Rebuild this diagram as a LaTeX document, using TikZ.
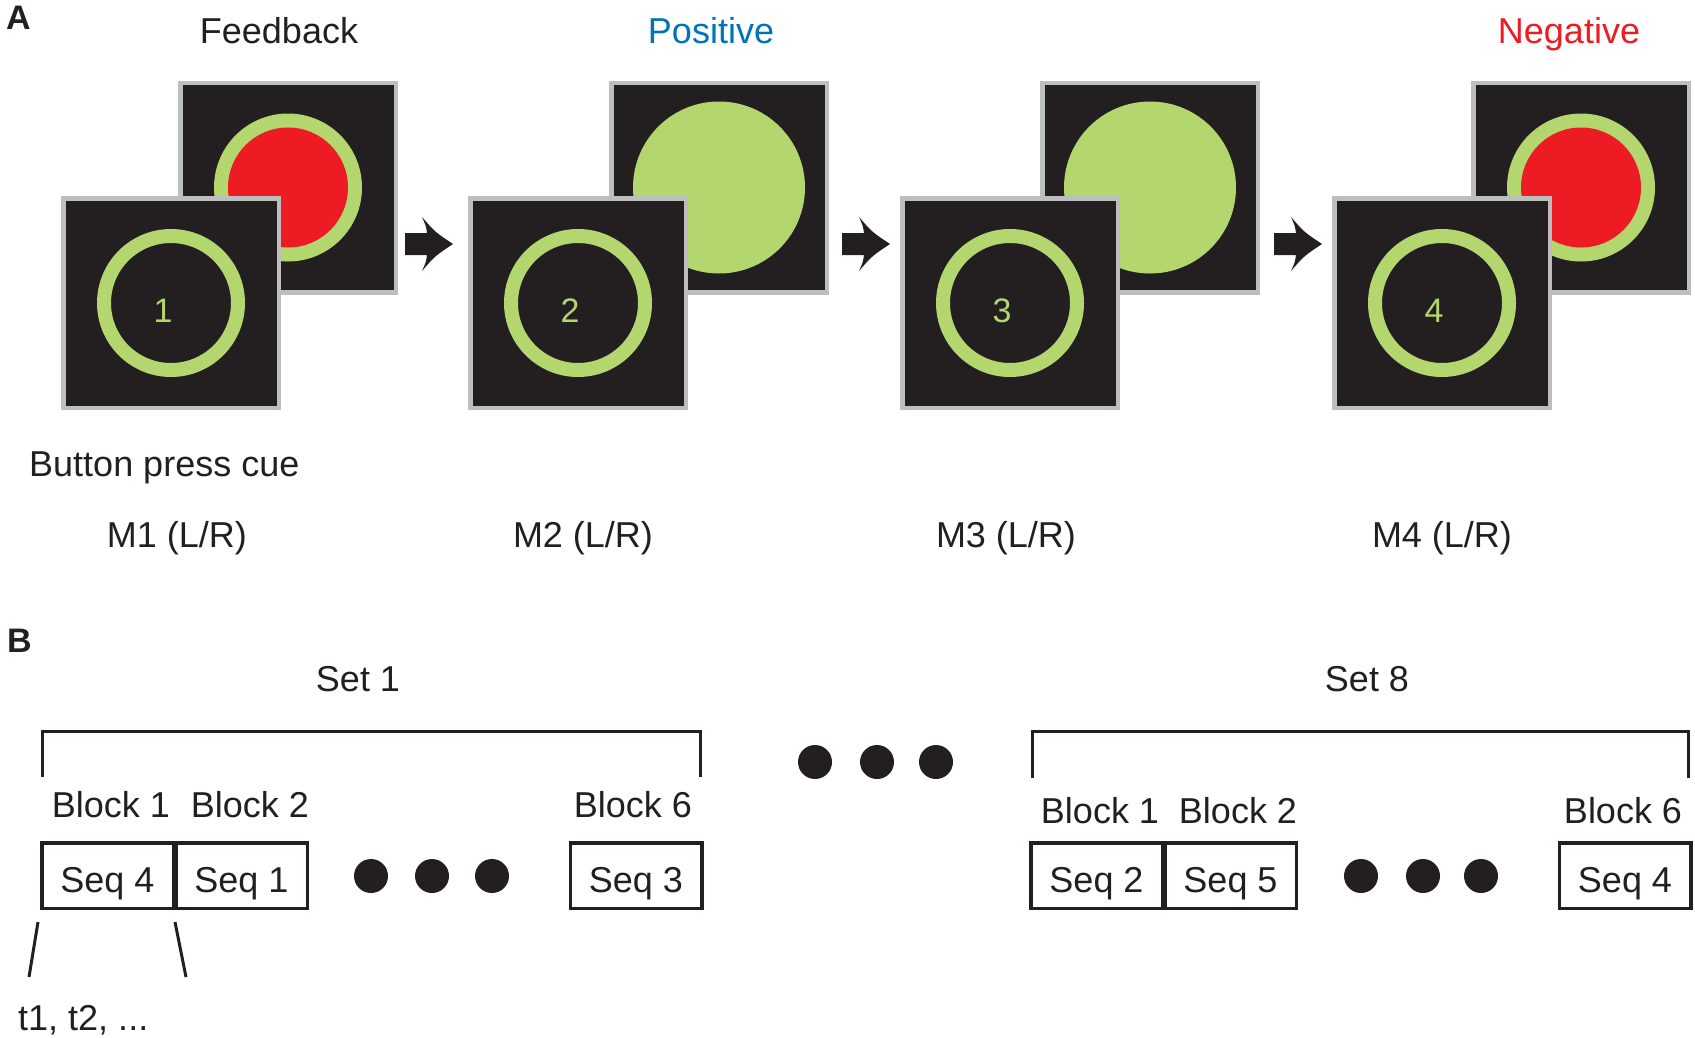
\documentclass[tikz,border=0pt]{standalone}
\usepackage{fontspec}
\setmainfont{Liberation Sans}
\usetikzlibrary{calc}

\definecolor{inkblack}{RGB}{35,31,32}
\definecolor{screenblack}{RGB}{35,31,32}
\definecolor{framegray}{RGB}{188,190,192}
\definecolor{ringgreen}{RGB}{179,214,110}
\definecolor{stopred}{RGB}{237,28,36}
\definecolor{posblue}{RGB}{0,114,188}

\tikzset{
    blockarrow/.pic={
        \fill[inkblack] (0,-11) -- (22,-11) .. controls (21,-18) .. (17,-27)
            .. controls (30,-12) .. (48,0) .. controls (30,12) .. (17,27)
            .. controls (21,18) .. (22,11) -- (0,11) -- cycle;
    }
}

\begin{document}
\begin{tikzpicture}[
    x=1pt, y=-1pt,
    font=\fontsize{36}{43}\selectfont,
    screen/.style={draw=framegray, line width=4.5pt, fill=screenblack,
        minimum width=215.5pt, minimum height=209.5pt, inner sep=0pt},
    ring/.style={draw=ringgreen, line width=14pt},
    digit/.style={text=ringgreen, font=\fontsize{34}{40}\selectfont},
    txt/.style={anchor=base, text=inkblack, inner sep=0pt},
    panel/.style={anchor=base west, text=inkblack, inner sep=0pt,
        font=\fontsize{34}{40}\selectfont\bfseries},
    seqbox/.style={draw=inkblack, line width=3.5pt, minimum width=131.5pt,
        minimum height=65.5pt, inner sep=0pt, text height=33pt,
        text depth=0pt, text=inkblack},
    bracket/.style={draw=inkblack, line width=3pt}
]
    \useasboundingbox (0,0) rectangle (1695,1037);

    % ---- Panel A ----
    \node[panel] (A) at (6,29) {A};

    % Headings
    \node[txt] (fb) at (279,43) {Feedback};
    \node[txt, text=posblue] (pos) at (711,43) {Positive};
    \node[txt, text=stopred] (neg) at (1569,43) {Negative};

    % Trial 1: negative feedback
    \node[screen] (back1) at (288,187.5) {};
    \fill[ringgreen] (back1) circle[radius=74pt];
    \fill[stopred] (back1) circle[radius=60pt];
    \node[screen] (front1) at (171,303) {};
    \draw[ring] (front1) circle[radius=67pt];
    \node[digit] (d1) at ($(front1)+(-8,8)$) {1};

    % Trial 2: positive feedback
    \node[screen] (back2) at (719,187.5) {};
    \fill[ringgreen] (back2) circle[radius=86pt];
    \node[screen] (front2) at (578,303) {};
    \draw[ring] (front2) circle[radius=67pt];
    \node[digit] (d2) at ($(front2)+(-8,8)$) {2};

    % Trial 3: positive feedback
    \node[screen] (back3) at (1150,187.5) {};
    \fill[ringgreen] (back3) circle[radius=86pt];
    \node[screen] (front3) at (1010,303) {};
    \draw[ring] (front3) circle[radius=67pt];
    \node[digit] (d3) at ($(front3)+(-8,8)$) {3};

    % Trial 4: negative feedback
    \node[screen] (back4) at (1581,187.5) {};
    \fill[ringgreen] (back4) circle[radius=74pt];
    \fill[stopred] (back4) circle[radius=60pt];
    \node[screen] (front4) at (1442,303) {};
    \draw[ring] (front4) circle[radius=67pt];
    \node[digit] (d4) at ($(front4)+(-8,8)$) {4};

    % Arrows between trials
    \pic at (405,244) {blockarrow};
    \pic at (842,244) {blockarrow};
    \pic at (1274,244) {blockarrow};

    % Captions
    \node[txt, anchor=base west] (cue) at (29,476) {Button press cue};
    \node[txt] (m1) at (177,547) {M1 (L/R)};
    \node[txt] (m2) at (583,547) {M2 (L/R)};
    \node[txt] (m3) at (1006,547) {M3 (L/R)};
    \node[txt] (m4) at (1442,547) {M4 (L/R)};

    % ---- Panel B ----
    \node[panel] (B) at (7,652) {B};

    % Set 1
    \node[txt] (set1) at (358,691) {Set 1};
    \draw[bracket] (42,777) |- (700.5,731) -- (700.5,777);
    \node[txt] (blk1a) at (111,817) {Block 1};
    \node[txt] (blk2a) at (250,817) {Block 2};
    \node[txt] (blk6a) at (633,817) {Block 6};
    \node[seqbox] (seq4a) at (107.5,875.5) {Seq 4};
    \node[seqbox] (seq1a) at (241.5,875.5) {Seq 1};
    \node[seqbox] (seq3a) at (636,875.5) {Seq 3};
    \fill[inkblack] (371,876) circle[radius=17pt];
    \fill[inkblack] (432,876) circle[radius=17pt];
    \fill[inkblack] (492,876) circle[radius=17pt];

    % Trials inside a block
    \draw[bracket] ($(seq4a.south west)+(-2,12)$) -- ++(-9,55);
    \draw[bracket] ($(seq4a.south east)+(0,12)$) -- ++(11,55);
    \node[txt, anchor=base west] (trials) at (18,1030) {t1, t2, ...};

    % Sets in between
    \fill[inkblack] (815,762) circle[radius=17pt];
    \fill[inkblack] (877,762) circle[radius=17pt];
    \fill[inkblack] (936,762) circle[radius=17pt];

    % Set 8
    \node[txt] (set8) at (1367,691) {Set 8};
    \draw[bracket] (1032,778) |- (1688.5,731) -- (1688.5,778);
    \node[txt] (blk1h) at (1100,823) {Block 1};
    \node[txt] (blk2h) at (1238,823) {Block 2};
    \node[txt] (blk6h) at (1623,823) {Block 6};
    \node[seqbox] (seq2h) at (1096.5,875.5) {Seq 2};
    \node[seqbox] (seq5h) at (1230.5,875.5) {Seq 5};
    \node[seqbox] (seq4h) at (1625,875.5) {Seq 4};
    \fill[inkblack] (1361,876) circle[radius=17pt];
    \fill[inkblack] (1423,876) circle[radius=17pt];
    \fill[inkblack] (1481,876) circle[radius=17pt];

\end{tikzpicture}
\end{document}
